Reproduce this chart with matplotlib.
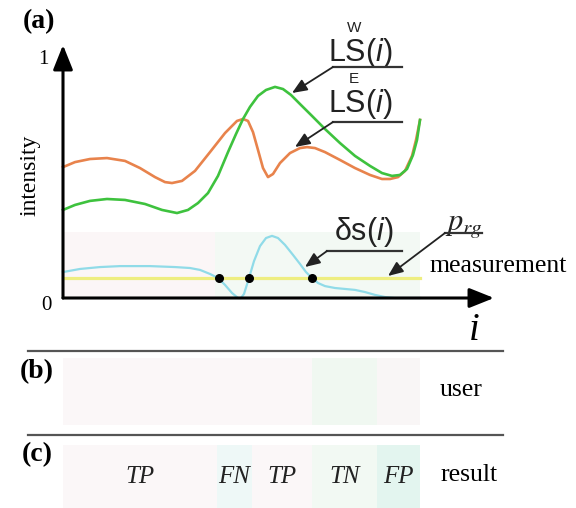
import matplotlib
matplotlib.use("Agg")
import matplotlib.pyplot as plt

plt.rcParams['font.family'] = 'serif'
plt.rcParams['font.serif'] = ['Liberation Serif', 'DejaVu Serif']
plt.rcParams['mathtext.fontset'] = 'custom'
plt.rcParams['mathtext.rm'] = 'Liberation Sans'
plt.rcParams['mathtext.it'] = 'Liberation Sans:italic'
plt.rcParams['mathtext.sf'] = 'Liberation Sans'

# ── DATA (sample index i, intensity) ───────────────
le_i = [0, 12, 27, 44, 62, 77, 92, 102, 109, 119, 132, 147, 162, 174, 180, 185, 190,
        195, 200, 205, 210, 217, 227, 237, 244, 252, 262, 277, 292, 307, 319, 327,
        335, 342, 349, 353, 357]
le_v = [0.550, 0.571, 0.584, 0.588, 0.576, 0.546, 0.508, 0.487, 0.483, 0.492, 0.534,
        0.613, 0.693, 0.744, 0.752, 0.744, 0.697, 0.622, 0.546, 0.508, 0.521, 0.567,
        0.609, 0.630, 0.634, 0.630, 0.613, 0.580, 0.546, 0.517, 0.500, 0.500, 0.508,
        0.534, 0.597, 0.664, 0.748]

lw_i = [0, 12, 27, 44, 62, 82, 99, 114, 125, 135, 145, 155, 165, 173, 180, 187, 195,
        203, 212, 220, 228, 237, 249, 262, 277, 292, 307, 319, 329, 337, 344, 350,
        354, 357]
lw_v = [0.370, 0.391, 0.408, 0.416, 0.412, 0.395, 0.370, 0.357, 0.370, 0.399, 0.441,
        0.513, 0.613, 0.689, 0.752, 0.803, 0.849, 0.874, 0.887, 0.878, 0.853, 0.815,
        0.765, 0.710, 0.651, 0.597, 0.555, 0.525, 0.513, 0.517, 0.542, 0.601, 0.664,
        0.748]

ds_i = [0, 17, 37, 57, 87, 112, 127, 137, 147, 155, 162, 169, 175, 178, 181, 186, 191,
        197, 203, 209, 215, 222, 230, 237, 243, 249, 255, 262, 272, 282, 292, 302,
        312, 322, 332, 357]
ds_v = [0.109, 0.122, 0.130, 0.134, 0.134, 0.130, 0.126, 0.118, 0.101, 0.084, 0.055,
        0.021, 0.0, 0.0, 0.017, 0.084, 0.155, 0.218, 0.252, 0.261, 0.252, 0.223,
        0.181, 0.143, 0.109, 0.084, 0.063, 0.050, 0.042, 0.038, 0.034, 0.025, 0.013,
        0.004, 0.0, 0.0]

p_rg = 0.084
cross_i = [156, 186, 249]
i_max = 357

# measurement band (panel a)
meas_edges = [0, 152, 357]
meas_colors = ['#fbf6f7', '#f3f9f4']
# user band (panel b)
user_edges = [0, 152, 189, 249, 314, 357]
user_colors = ['#fbf7f8', '#fbf7f8', '#fbf7f8', '#f0f8f1', '#f9f6f6']
# result band (panel c)
res_edges = [0, 154, 189, 249, 314, 357]
res_labels = ['TP', 'FN', 'TP', 'TN', 'FP']
res_colors = ['#fbf7f8', '#eef8f7', '#fbf7f8', '#f2f9f3', '#e3f5ef']


# pixel layout helpers
def X(px):
    return px - 63


def Y(py):
    return (298 - py) / 238


fig = plt.figure(figsize=(5.76, 5.08), dpi=100)
ax = fig.add_axes([0, 0, 1, 1])
ax.set_xlim(X(0), X(576))
ax.set_ylim(Y(508), Y(0))
ax.axis('off')

# ── BANDS ──────────────────────────────────────────
for k, c in enumerate(meas_colors):
    ax.fill_between([meas_edges[k], meas_edges[k + 1]], 0, Y(232), color=c, lw=0, zorder=0)
for k, c in enumerate(user_colors):
    ax.fill_between([user_edges[k], user_edges[k + 1]], Y(425), Y(358), color=c, lw=0, zorder=0)
for k, c in enumerate(res_colors):
    ax.fill_between([res_edges[k], res_edges[k + 1]], Y(508), Y(445), color=c, lw=0, zorder=0)
    ax.text((res_edges[k] + res_edges[k + 1]) / 2, Y(477), res_labels[k],
            ha='center', va='center', fontsize=18, style='italic', color='#222222')

# ── CURVES ─────────────────────────────────────────
ax.plot([0, i_max], [p_rg, p_rg], color='#eeee80', lw=2.3, zorder=2)
ax.plot(ds_i, ds_v, color='#90dbe8', lw=1.6, zorder=3)
ax.plot(le_i, le_v, color='#e8834c', lw=1.9, zorder=3)
ax.plot(lw_i, lw_v, color='#3ec23e', lw=1.9, zorder=4)
ax.scatter(cross_i, [p_rg] * len(cross_i), s=30, color='black', zorder=5)

# ── AXES ARROWS ────────────────────────────────────
head = dict(arrowstyle='-|>,head_length=0.75,head_width=0.3', lw=2.2, color='black',
            mutation_scale=20, shrinkA=0, shrinkB=0)
ax.annotate('', xy=(0, Y(45)), xytext=(0, 0), arrowprops=head, zorder=6)
ax.annotate('', xy=(X(494), 0), xytext=(0, 0), arrowprops=head, zorder=6)

ax.text(X(43), Y(60), '1', ha='center', va='center', fontsize=15)
ax.text(X(46), Y(306), '0', ha='center', va='center', fontsize=15)
ax.text(X(30), Y(175), 'intensity', rotation=90, ha='center', va='center', fontsize=17)
ax.text(X(474), Y(330), 'i', ha='center', va='center', fontsize=28, style='italic')

# ── CALLOUTS ───────────────────────────────────────
thin = dict(arrowstyle='-|>,head_length=0.6,head_width=0.25', lw=1.3, color='#222222',
            mutation_scale=15, shrinkA=0, shrinkB=0)
# label, text x, text y, sup, underline x0, x1, y, arrow tip x, y
callouts = [
    (r'$\mathrm{LS}(i)$', 360, 53, 'W', 333, 402, 67, 292, 93),
    (r'$\mathrm{LS}(i)$', 360, 104, 'E', 333, 402, 122, 295, 147),
    (r'$\mathrm{\delta s}(i)$', 364, 232, '', 327, 402, 251, 305, 267),
]
for lab, tx, ty, sup, ux0, ux1, uy, ax_, ay_ in callouts:
    ax.plot([X(ux0), X(ux1)], [Y(uy), Y(uy)], color='#333333', lw=1.6, zorder=6)
    ax.annotate('', xy=(X(ax_), Y(ay_)), xytext=(X(ux0), Y(uy)), arrowprops=thin, zorder=6)
    ax.text(X(tx), Y(ty), lab, ha='center', va='center', fontsize=22, color='#222222')
    if sup:
        ax.text(X(354), Y(ty - 25), sup, ha='center', va='center', fontsize=11,
                family='Liberation Sans', color='#222222')

ax.plot([X(445), X(482)], [Y(233), Y(233)], color='#333333', lw=1.6, zorder=6)
ax.annotate('', xy=(X(388), Y(276)), xytext=(X(445), Y(233)), arrowprops=thin, zorder=6)
ax.text(X(464), Y(225), r'$p_{rg}$', ha='center', va='center', fontsize=22,
        math_fontfamily='stix', color='#222222')

# ── PANEL LABELS & SEPARATORS ──────────────────────
for py in [351, 435]:
    ax.plot([X(28), X(503)], [Y(py), Y(py)], color='#555555', lw=1.6)
ax.text(X(39), Y(22), '(a)', ha='center', va='center', fontsize=20, fontweight='bold')
ax.text(X(37), Y(372), '(b)', ha='center', va='center', fontsize=20, fontweight='bold')
ax.text(X(37), Y(455), '(c)', ha='center', va='center', fontsize=20, fontweight='bold')
ax.text(X(430), Y(266), 'measurement', ha='left', va='center', fontsize=18.5)
ax.text(X(461), Y(390), 'user', ha='center', va='center', fontsize=18.5)
ax.text(X(469), Y(475), 'result', ha='center', va='center', fontsize=18.5)

fig.savefig('out.png', dpi=100)
